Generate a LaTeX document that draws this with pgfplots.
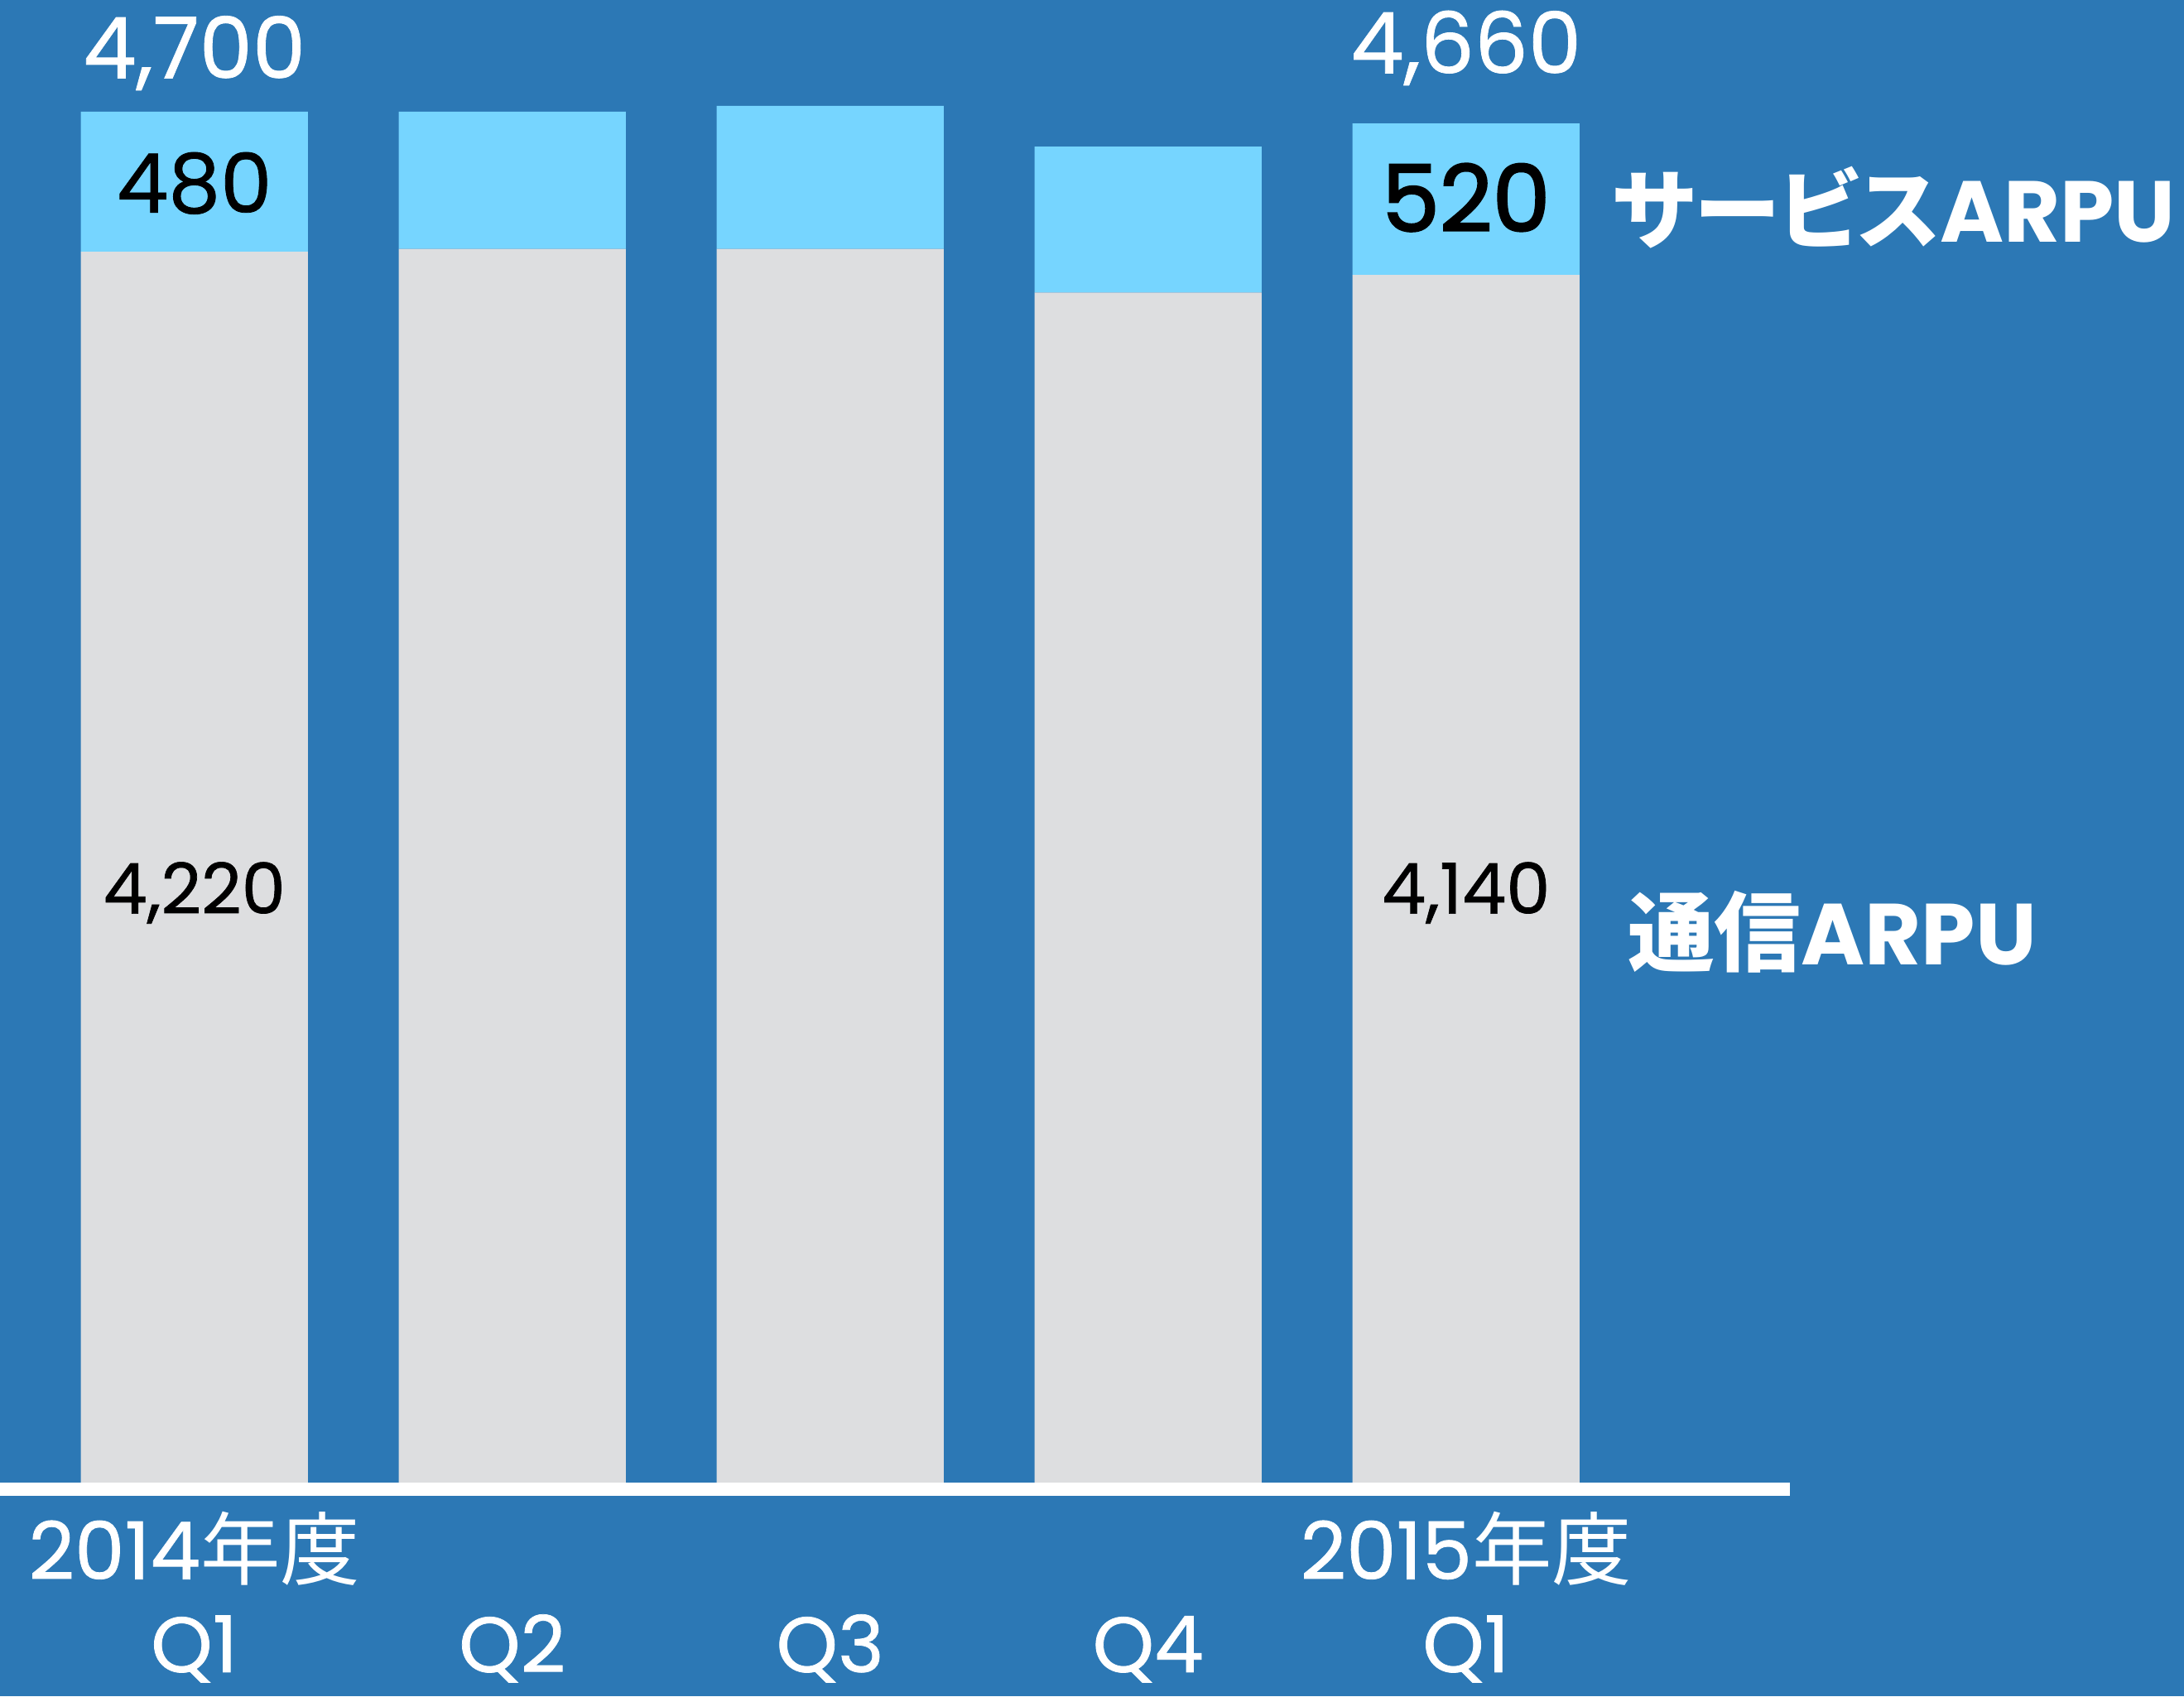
\documentclass[border=0pt]{standalone}
\usepackage{fontspec}
\setmainfont{Poppins}
\newfontface\med{Poppins}[FakeBold=0.8]
\newfontface\semi{Poppins}[FakeBold=2.2]
\newfontfamily\cjk[RawFeature=+palt]{Noto Sans CJK JP}
\usepackage{pgfplots}
\pgfplotsset{compat=1.18}
\definecolor{bg}{HTML}{2C78B5}
\definecolor{svc}{HTML}{76D5FF}
\definecolor{com}{HTML}{DDDEE0}
\begin{document}
\begin{tikzpicture}
\fill[bg] (0,0) rectangle (15.68,12.18);
\begin{axis}[
  at={(0cm,1.534cm)}, anchor=south west,
  scale only axis, width=12.85cm, height=10.646cm,
  xmin=-0.6112, xmax=5.0186, ymin=0, ymax=5083,
  ybar stacked, bar width=1.63cm,
  axis line style={draw=none}, tick style={draw=none},
  ytick=\empty, major tick length=0pt,
  xtick={0,1,2,3,4}, xticklabels={Q1,Q2,Q3,Q4,Q1},
  xticklabel style={anchor=base, yshift=-1.36cm, font=\fontsize{16}{18}\selectfont\med, text=white, inner sep=0pt, text depth=0pt},
  clip=false,
]
\addplot[fill=com, draw=none] coordinates {(0,4220) (1,4230) (2,4230) (3,4080) (4,4140)};
\addplot[fill=svc, draw=none] coordinates {(0,480) (1,470) (2,490) (3,500) (4,520)};
\coordinate (bl) at (rel axis cs:0,0);
\coordinate (br) at (rel axis cs:1,0);
\coordinate (t1) at (axis cs:0,4815);
\coordinate (t5) at (axis cs:4,4832);
\coordinate (s1) at (axis cs:0,4354);
\coordinate (s5) at (axis cs:4,4290);
\coordinate (c1) at (axis cs:0,1951);
\coordinate (c5) at (axis cs:4,1951);
\coordinate (ls) at (axis cs:4.458,4254);
\coordinate (lc) at (axis cs:4.506,1775);
\coordinate (y1) at (axis cs:0,-331);
\coordinate (y5) at (axis cs:4,-331);
\end{axis}
\draw[white, line width=0.95mm] ([yshift=-0.475mm]bl) -- ([yshift=-0.475mm]br);
\node[anchor=base, text=white, inner sep=0pt, font=\fontsize{17.3}{18}\selectfont\med] at (t1) {4,700};
\node[anchor=base, text=white, inner sep=0pt, font=\fontsize{17.3}{18}\selectfont\med] at (t5) {4,660};
\node[anchor=base, text=black, inner sep=0pt, font=\fontsize{16.8}{18}\selectfont\med] at (s1) {480};
\node[anchor=base, text=black, inner sep=0pt, font=\fontsize{18.8}{20}\selectfont\semi] at (s5) {520};
\node[anchor=base, text=black, inner sep=0pt, font=\fontsize{14.3}{16}\selectfont\med] at (c1) {4,220};
\node[anchor=base, text=black, inner sep=0pt, font=\fontsize{14.3}{16}\selectfont\med] at (c5) {4,140};
\node[anchor=base west, text=white, inner sep=0pt, font=\fontsize{17.7}{20}\selectfont\bfseries] at (ls) {{\cjk サービス}ARPU};
\node[anchor=base west, text=white, inner sep=0pt, font=\fontsize{17.7}{20}\selectfont\bfseries] at (lc) {{\cjk 通信}ARPU};
\node[anchor=base, text=white, inner sep=0pt, font=\fontsize{16.3}{18}\selectfont\med] at (y1) {2014{\cjk 年度}};
\node[anchor=base, text=white, inner sep=0pt, font=\fontsize{16.3}{18}\selectfont\med] at (y5) {2015{\cjk 年度}};
\pgfresetboundingbox
\path (0,0) rectangle (15.68,12.18);
\end{tikzpicture}
\end{document}
